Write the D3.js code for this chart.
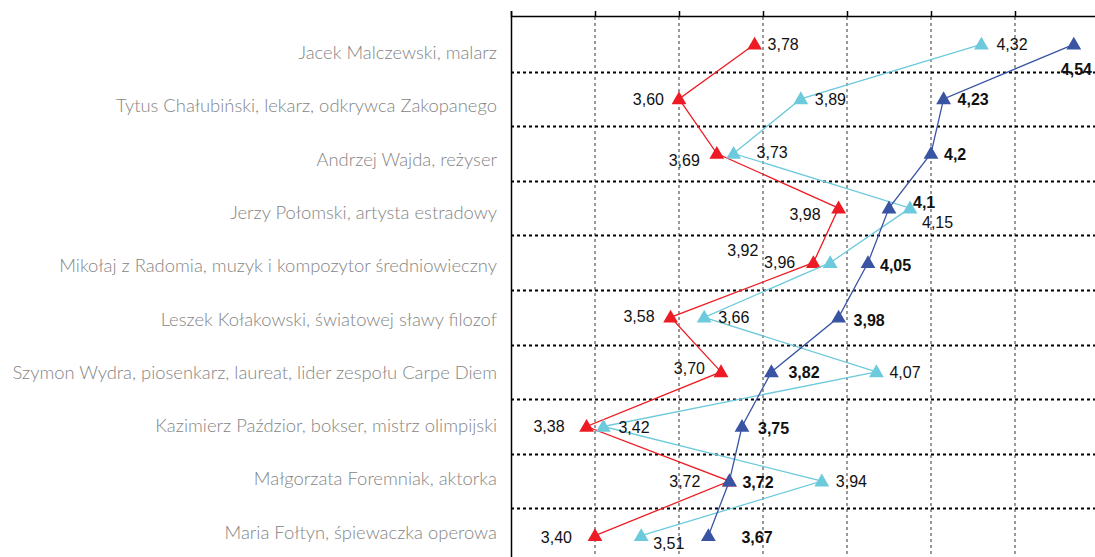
<!DOCTYPE html>
<html>
<head>
<meta charset="utf-8">
<script src="https://cdn.jsdelivr.net/npm/d3@7"></script>
<style>
  html, body { margin: 0; padding: 0; background: #fff; }
  svg { display: block; }
</style>
</head>
<body>
<svg id="chart" width="1095" height="557"></svg>
<script>
// Rated figures, one row per person
const categories = [
  "Jacek Malczewski, malarz",
  "Tytus Chałubiński, lekarz, odkrywca Zakopanego",
  "Andrzej Wajda, reżyser",
  "Jerzy Połomski, artysta estradowy",
  "Mikołaj z Radomia, muzyk i kompozytor średniowieczny",
  "Leszek Kołakowski, światowej sławy filozof",
  "Szymon Wydra, piosenkarz, laureat, lider zespołu Carpe Diem",
  "Kazimierz Paździor, bokser, mistrz olimpijski",
  "Małgorzata Foremniak, aktorka",
  "Maria Fołtyn, śpiewaczka operowa"
];

// Three series of mean scores
const seriesRed   = [3.78, 3.60, 3.69, 3.98, 3.92, 3.58, 3.70, 3.38, 3.72, 3.40];
const seriesLight = [4.32, 3.89, 3.73, 4.15, 3.96, 3.66, 4.07, 3.42, 3.94, 3.51];
const seriesDark  = [4.54, 4.23, 4.2, 4.1, 4.05, 3.98, 3.82, 3.75, 3.72, 3.67];

// Number of decimals printed for each value label
const decimalsDark = [2, 2, 1, 1, 2, 2, 2, 2, 2, 2];

// Axis ticks
const xTicks = [3.2, 3.4, 3.6, 3.8, 4.0, 4.2, 4.4];

// Label placement (dx, dy from the marker; anchor)
const labelPosRed = [
  [13, 0, "start"], [-15, 0, "end"], [-17, 6, "end"], [-18, 6, "end"], [-55, -13, "end"],
  [-16, -1, "end"], [-16, -4, "end"], [-22, -1, "end"], [-29, 0, "end"], [-23, 1, "end"]
];
const labelPosLight = [
  [15, 0, "start"], [14, 0, "start"], [23, -2, "start"], [12, 14, "start"], [-35, -1, "end"],
  [14, 0, "start"], [13, 0, "start"], [15, 0, "start"], [14, 0, "start"], [12, 7, "start"]
];
const labelPosDark = [
  [-13, 25, "start"], [14, 0, "start"], [13, 0, "start"], [24, -6, "start"], [12, 2, "start"],
  [15, 3, "start"], [17, 0, "start"], [16, 1, "start"], [13, 1, "start"], [33, 1, "start"]
];

const series = [
  { values: seriesRed,   color: "#ed1c24", bold: false, pos: labelPosRed,   dec: null },
  { values: seriesLight, color: "#6dcadc", bold: false, pos: labelPosLight, dec: null },
  { values: seriesDark,  color: "#3a54a4", bold: true,  pos: labelPosDark,  dec: decimalsDark }
];

const svg = d3.select("#chart");

const x = d3.scaleLinear().domain([3.2, 4.6]).range([511, 1099]);
const y = d3.scaleBand().domain(categories).range([17, 563]).padding(0);
const yc = c => y(c) + y.bandwidth() / 2;
// Category names sit on a slightly tighter row pitch than the plotted rows
const yLabel = d3.scaleBand().domain(categories).range([26.4, 559.4]).padding(0);

// Vertical dotted gridlines
svg.append("g")
  .selectAll("line")
  .data(xTicks.slice(1))
  .join("line")
  .attr("x1", d => x(d)).attr("x2", d => x(d))
  .attr("y1", 17).attr("y2", 557)
  .attr("stroke", "#999")
  .attr("stroke-width", 2)
  .attr("stroke-dasharray", "3,3");

// Horizontal dotted separators between rows
svg.append("g")
  .selectAll("line")
  .data(categories.slice(1))
  .join("line")
  .attr("x1", 511).attr("x2", 1095)
  .attr("y1", d => Math.round(y(d)) + 0.5).attr("y2", d => Math.round(y(d)) + 0.5)
  .attr("stroke", "#000")
  .attr("stroke-width", 2)
  .attr("stroke-dasharray", "3,3");

// Top axis with ticks pointing outward
const axis = d3.axisTop(x).tickValues(xTicks).tickSize(5).tickFormat("");
const gAxis = svg.append("g").attr("transform", "translate(0,16)").call(axis);
gAxis.select(".domain").attr("stroke", "#000").attr("stroke-width", 1.5);
gAxis.selectAll(".tick line").attr("stroke", "#000").attr("stroke-width", 1.5);

// Left spine
svg.append("line")
  .attr("x1", 511.5).attr("x2", 511.5)
  .attr("y1", 16).attr("y2", 557)
  .attr("stroke", "#000").attr("stroke-width", 1.5);

// Category labels
svg.append("g")
  .selectAll("text")
  .data(categories)
  .join("text")
  .attr("x", 497)
  .attr("y", d => yLabel(d) + yLabel.bandwidth() / 2 + 6)
  .attr("text-anchor", "end")
  .attr("font-family", "Lato, 'Open Sans', sans-serif")
  .attr("font-weight", 300)
  .attr("font-size", 18.4)
  .attr("fill", "#858585")
  .text(d => d);

const tri = d3.symbol().type(d3.symbolTriangle).size(95);
const fmt = (v, dec) => v.toFixed(dec).replace(".", ",");

series.forEach(s => {
  const pts = categories.map((c, i) => ({ c, v: s.values[i], i }));
  const g = svg.append("g");

  g.append("path")
    .datum(pts)
    .attr("fill", "none")
    .attr("stroke", s.color)
    .attr("stroke-width", 1.3)
    .attr("d", d3.line().x(d => x(d.v)).y(d => yc(d.c)));

  g.selectAll("path.m")
    .data(pts)
    .join("path")
    .attr("class", "m")
    .attr("transform", d => `translate(${x(d.v)},${yc(d.c) + 1})`)
    .attr("d", tri)
    .attr("fill", s.color);

  g.selectAll("text")
    .data(pts)
    .join("text")
    .attr("x", d => x(d.v) + s.pos[d.i][0])
    .attr("y", d => yc(d.c) + s.pos[d.i][1] + 6)
    .attr("text-anchor", d => s.pos[d.i][2])
    .attr("font-family", "'Liberation Sans', Arial, sans-serif")
    .attr("font-size", 16)
    .attr("font-weight", s.bold ? "bold" : "normal")
    .attr("fill", "#111")
    .text(d => fmt(d.v, s.dec ? s.dec[d.i] : 2));
});
</script>
</body>
</html>
